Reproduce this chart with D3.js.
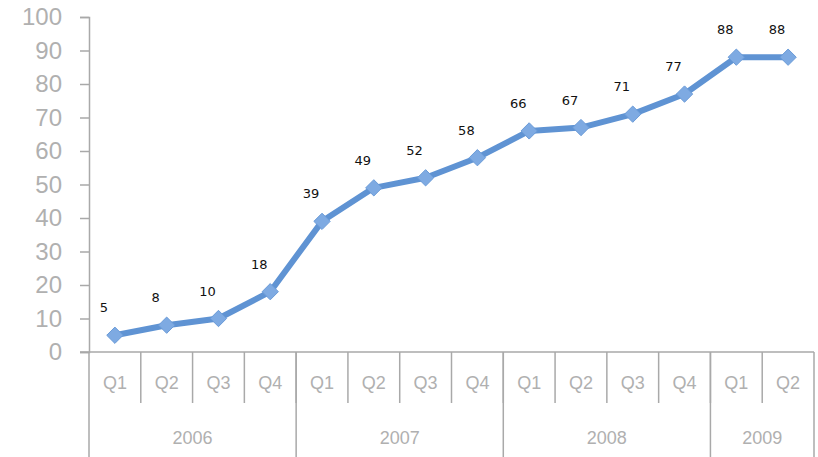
<!DOCTYPE html>
<html>
<head>
<meta charset="utf-8">
<script src="https://cdn.jsdelivr.net/npm/d3@7"></script>
<style>
  body { margin: 0; background: #fff; }
  svg { display: block; font-family: "Liberation Sans", Arial, sans-serif; }
</style>
</head>
<body>
<div id="main"></div>
<script>
// chart data
const years = ["2006", "2007", "2008", "2009"];
const yearQuarters = [4, 4, 4, 2];
const quarters = ["Q1", "Q2", "Q3", "Q4", "Q1", "Q2", "Q3", "Q4", "Q1", "Q2", "Q3", "Q4", "Q1", "Q2"];
const values = [5, 8, 10, 18, 39, 49, 52, 58, 66, 67, 71, 77, 88, 88];
const yTicks = [0, 10, 20, 30, 40, 50, 60, 70, 80, 90, 100];

const config = {div: "#main", width: 818, height: 457, left: 89, right: 814, top: 17, bottom: 352};
const axisColor = "#a9a9a9";

const svg = d3.select(config.div)
  .append("svg")
  .attr("width", config.width)
  .attr("height", config.height);

// one band per quarter, keyed by index
const xScale = d3.scaleBand()
  .domain(d3.range(values.length))
  .range([config.left, config.right])
  .padding(0);

const yScale = d3.scaleLinear()
  .domain([0, 100])
  .range([config.bottom, config.top]);

// y axis
const yAxis = d3.axisLeft(yScale)
  .tickValues(yTicks)
  .tickSize(9)
  .tickPadding(18)
  .tickFormat(d3.format("d"));

const yG = svg.append("g")
  .attr("transform", `translate(${config.left},0)`)
  .call(yAxis);
yG.select(".domain").attr("stroke", axisColor).attr("stroke-width", 1.5);
yG.selectAll(".tick line").attr("stroke", axisColor).attr("stroke-width", 1.5);
yG.selectAll(".tick text")
  .attr("fill", "#b0b0b0")
  .style("font-size", "24px");

// x axis: horizontal line plus two level category labels
const xG = svg.append("g").attr("stroke", axisColor).attr("stroke-width", 1.5);

xG.append("line")
  .attr("x1", config.left - 9).attr("x2", config.right)
  .attr("y1", config.bottom).attr("y2", config.bottom);

// quarter separators (short)
xG.selectAll(".qsep")
  .data(d3.range(1, values.length))
  .join("line")
  .attr("class", "qsep")
  .attr("x1", i => xScale(i)).attr("x2", i => xScale(i))
  .attr("y1", config.bottom).attr("y2", config.bottom + 51);

// year boundaries (long)
const yearStarts = [0];
yearQuarters.forEach((n, i) => yearStarts.push(yearStarts[i] + n));

xG.selectAll(".ysep")
  .data(yearStarts)
  .join("line")
  .attr("class", "ysep")
  .attr("x1", i => i < values.length ? xScale(i) : config.right)
  .attr("x2", i => i < values.length ? xScale(i) : config.right)
  .attr("y1", config.bottom).attr("y2", config.height);

svg.append("g")
  .selectAll("text")
  .data(quarters)
  .join("text")
  .attr("x", (d, i) => xScale(i) + xScale.bandwidth() / 2)
  .attr("y", config.bottom + 37)
  .attr("text-anchor", "middle")
  .attr("fill", "#b0b0b0")
  .style("font-size", "18px")
  .text(d => d);

svg.append("g")
  .selectAll("text")
  .data(years)
  .join("text")
  .attr("x", (d, i) => {
    const a = xScale(yearStarts[i]);
    const endIdx = yearStarts[i + 1];
    const b = endIdx < values.length ? xScale(endIdx) : config.right;
    return (a + b) / 2;
  })
  .attr("y", config.bottom + 92)
  .attr("text-anchor", "middle")
  .attr("fill", "#b0b0b0")
  .style("font-size", "18px")
  .text(d => d);

// line
const line = d3.line()
  .x((d, i) => xScale(i) + xScale.bandwidth() / 2)
  .y(d => yScale(d));

svg.append("path")
  .datum(values)
  .attr("fill", "none")
  .attr("stroke", "#5f93d3")
  .attr("stroke-width", 6)
  .attr("stroke-linejoin", "round")
  .attr("d", line);

// diamond markers
svg.append("g")
  .selectAll("path")
  .data(values)
  .join("path")
  .attr("transform", (d, i) => `translate(${xScale(i) + xScale.bandwidth() / 2},${yScale(d)})`)
  .attr("d", d3.symbol(d3.symbolDiamond2, 170))
  .attr("fill", "#7eaae2")
  .attr("stroke", "#6a9bd8")
  .attr("stroke-width", 1);

// data labels
svg.append("g")
  .selectAll("text")
  .data(values)
  .join("text")
  .attr("x", (d, i) => xScale(i) + xScale.bandwidth() / 2 - 11)
  .attr("y", d => yScale(d) - 23)
  .attr("text-anchor", "middle")
  .attr("fill", "#111")
  .style("font-size", "13px")
  .style("font-family", "'DejaVu Sans', sans-serif")
  .text(d => d);
</script>
</body>
</html>
